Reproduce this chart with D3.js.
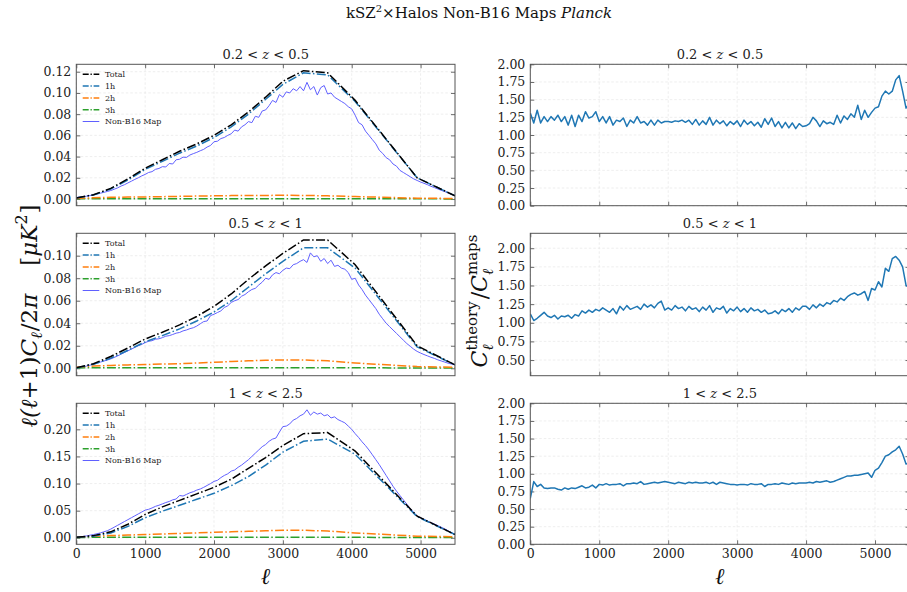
<!DOCTYPE html>
<html>
<head>
<meta charset="utf-8">
<script src="https://cdn.jsdelivr.net/npm/d3@7"></script>
<style>
  body { margin: 0; background: #fff; }
  svg { display: block; font-family: 'DejaVu Serif', serif; }
</style>
</head>
<body>
<div id="chart"></div>
<script>
// theory curves are sampled on a sparse ell grid
const theoryEll = [0, 250, 500, 750, 1000, 1250, 1500, 1750, 2000, 2250, 2500, 2750, 3000, 3300, 3650, 4050, 4950, 5500];
// maps / ratios are sampled every 50 in ell
const mapEll = d3.range(0, 5501, 50);

const zBins = ['0.2 < |z| < 0.5', '0.5 < |z| < 1', '1 < |z| < 2.5'];
const seriesNames = ['Total', '1h', '2h', '3h', 'Non-B16 Map'];

// ---- 0.2 < z < 0.5
const total1 = [0.001, 0.004, 0.010, 0.019, 0.029, 0.037, 0.045, 0.052, 0.060, 0.070, 0.082, 0.096, 0.111, 0.121, 0.119, 0.093, 0.020, 0.003];
const oneHalo1 = [0.001, 0.0038, 0.0095, 0.018, 0.028, 0.0355, 0.0432, 0.050, 0.058, 0.068, 0.080, 0.094, 0.108, 0.119, 0.117, 0.092, 0.020, 0.003];
const twoHalo1 = [0.0005, 0.0012, 0.0016, 0.0018, 0.002, 0.0022, 0.0025, 0.0028, 0.003, 0.0032, 0.0033, 0.0034, 0.0035, 0.0034, 0.003, 0.0023, 0.0008, 0.0005];
const threeHalo1 = [0.0002, 0.0003, 0.0003, 0.0003, 0.0003, 0.0003, 0.0003, 0.0003, 0.0003, 0.0003, 0.0003, 0.0003, 0.0003, 0.0003, 0.0003, 0.0003, 0.0002, 0.0001];
const map1 = [
  0.0015, 0.0018, 0.0022, 0.0027, 0.0033, 0.0040, 0.0047, 0.0055, 0.0063, 0.0071,
  0.0080, 0.0092, 0.0105, 0.0122, 0.0135, 0.0152, 0.0168, 0.0185, 0.0200, 0.0218,
  0.0232, 0.0250, 0.0258, 0.0280, 0.0288, 0.0305, 0.0302, 0.0335, 0.0330, 0.0370,
  0.0375, 0.0395, 0.0392, 0.0415, 0.0428, 0.0440, 0.0455, 0.0468, 0.0490, 0.0505,
  0.0540, 0.0545, 0.0570, 0.0580, 0.0600, 0.0615, 0.0650, 0.0640, 0.0680, 0.0700,
  0.0730, 0.0720, 0.0780, 0.0770, 0.0830, 0.0840, 0.0880, 0.0930, 0.0910, 0.0985,
  0.0960, 0.1010, 0.1000, 0.1040, 0.1020, 0.1060, 0.1020, 0.1100, 0.1030, 0.1060,
  0.0980, 0.1050, 0.1070, 0.0990, 0.1000, 0.0960, 0.0940, 0.0920, 0.0900, 0.0870,
  0.0850, 0.0790, 0.0720, 0.0700, 0.0640, 0.0600, 0.0560, 0.0520, 0.0460, 0.0430,
  0.0390, 0.0370, 0.0330, 0.0310, 0.0270, 0.0250, 0.0230, 0.0210, 0.0190, 0.0175,
  0.0160, 0.0148, 0.0135, 0.0120, 0.0108, 0.0095, 0.0082, 0.0070, 0.0058, 0.0045, 0.0035];
const ratio1 = [
  1.31, 1.17, 1.35, 1.17, 1.26, 1.19, 1.26, 1.21, 1.28, 1.19,
  1.26, 1.14, 1.28, 1.12, 1.28, 1.19, 1.33, 1.24, 1.26, 1.33,
  1.19, 1.26, 1.17, 1.26, 1.14, 1.21, 1.19, 1.24, 1.12, 1.21,
  1.17, 1.26, 1.17, 1.19, 1.14, 1.21, 1.14, 1.21, 1.17, 1.19,
  1.19, 1.18, 1.20, 1.19, 1.21, 1.18, 1.21, 1.15, 1.22, 1.14,
  1.20, 1.15, 1.25, 1.14, 1.21, 1.16, 1.20, 1.13, 1.19, 1.15,
  1.20, 1.12, 1.21, 1.15, 1.19, 1.13, 1.18, 1.11, 1.23, 1.15,
  1.24, 1.12, 1.19, 1.10, 1.18, 1.10, 1.17, 1.09, 1.16, 1.12,
  1.13, 1.16, 1.25, 1.20, 1.12, 1.20, 1.16, 1.18, 1.15, 1.28,
  1.17, 1.27, 1.22, 1.30, 1.25, 1.42, 1.22, 1.35, 1.25, 1.32,
  1.38, 1.40, 1.55, 1.62, 1.58, 1.62, 1.78, 1.84, 1.62, 1.38, 1.45];

// ---- 0.5 < z < 1
const total2 = [0.0005, 0.004, 0.0105, 0.018, 0.026, 0.032, 0.0385, 0.046, 0.055, 0.066, 0.079, 0.091, 0.102, 0.114, 0.114, 0.092, 0.020, 0.003];
const oneHalo2 = [0.0003, 0.0035, 0.009, 0.016, 0.0235, 0.029, 0.035, 0.042, 0.050, 0.060, 0.072, 0.084, 0.095, 0.107, 0.107, 0.089, 0.019, 0.003];
const twoHalo2 = [0.001, 0.002, 0.0025, 0.003, 0.0033, 0.0037, 0.004, 0.0047, 0.0053, 0.006, 0.0066, 0.0071, 0.0074, 0.0073, 0.0066, 0.0047, 0.0015, 0.0008];
const threeHalo2 = [0.0003, 0.0004, 0.0004, 0.0004, 0.0004, 0.0004, 0.0004, 0.0004, 0.0004, 0.0004, 0.0004, 0.0004, 0.0004, 0.0004, 0.0004, 0.0004, 0.0003, 0.0002];
const map2 = [
  0.0003, 0.0008, 0.0014, 0.0020, 0.0028, 0.0036, 0.0045, 0.0055, 0.0064, 0.0073,
  0.0083, 0.0096, 0.0110, 0.0125, 0.0140, 0.0155, 0.0170, 0.0185, 0.0200, 0.0212,
  0.0228, 0.0240, 0.0245, 0.0258, 0.0262, 0.0272, 0.0285, 0.0290, 0.0300, 0.0312,
  0.0318, 0.0332, 0.0340, 0.0352, 0.0360, 0.0375, 0.0395, 0.0415, 0.0420, 0.0468,
  0.0480, 0.0495, 0.0510, 0.0540, 0.0555, 0.0585, 0.0600, 0.0610, 0.0640, 0.0655,
  0.0680, 0.0700, 0.0710, 0.0740, 0.0765, 0.0800, 0.0790, 0.0830, 0.0850, 0.0840,
  0.0870, 0.0890, 0.0885, 0.0920, 0.0930, 0.0950, 0.0965, 0.0940, 0.1025, 0.0990,
  0.1000, 0.0950, 0.0975, 0.0930, 0.0960, 0.0905, 0.0915, 0.0890, 0.0880, 0.0850,
  0.0790, 0.0800, 0.0740, 0.0700, 0.0650, 0.0610, 0.0570, 0.0530, 0.0480, 0.0440,
  0.0400, 0.0370, 0.0340, 0.0310, 0.0280, 0.0250, 0.0220, 0.0195, 0.0170, 0.0150,
  0.0135, 0.0122, 0.0110, 0.0098, 0.0088, 0.0075, 0.0065, 0.0055, 0.0045, 0.0037, 0.0030];
const ratio2 = [
  1.12, 1.03, 1.06, 1.10, 1.14, 1.09, 1.07, 1.10, 1.05, 1.09,
  1.08, 1.10, 1.06, 1.11, 1.09, 1.16, 1.13, 1.17, 1.14, 1.18,
  1.16, 1.20, 1.17, 1.14, 1.19, 1.12, 1.22, 1.17, 1.23, 1.18,
  1.20, 1.22, 1.18, 1.25, 1.21, 1.24, 1.20, 1.26, 1.29, 1.17,
  1.20, 1.17, 1.23, 1.19, 1.21, 1.16, 1.22, 1.18, 1.20, 1.15,
  1.21, 1.17, 1.23, 1.14, 1.20, 1.18, 1.22, 1.13, 1.19, 1.16,
  1.21, 1.15, 1.19, 1.14, 1.20, 1.16, 1.18, 1.14, 1.17, 1.12,
  1.13, 1.16, 1.12, 1.18, 1.15, 1.19, 1.14, 1.20, 1.17, 1.22,
  1.22, 1.18, 1.24, 1.20, 1.25, 1.22, 1.27, 1.25, 1.30, 1.28,
  1.33, 1.30, 1.35, 1.38, 1.40, 1.37, 1.39, 1.42, 1.30, 1.46,
  1.44, 1.55, 1.48, 1.73, 1.69, 1.86, 1.89, 1.84, 1.75, 1.50, 1.48];

// ---- 1 < z < 2.5
const total3 = [0.001, 0.004, 0.011, 0.025, 0.043, 0.057, 0.069, 0.081, 0.093, 0.108, 0.128, 0.148, 0.170, 0.192, 0.194, 0.160, 0.040, 0.006];
const oneHalo3 = [0.0008, 0.003, 0.009, 0.021, 0.037, 0.049, 0.060, 0.071, 0.082, 0.096, 0.113, 0.134, 0.158, 0.178, 0.182, 0.154, 0.039, 0.006];
const twoHalo3 = [0.001, 0.003, 0.004, 0.005, 0.006, 0.007, 0.008, 0.009, 0.010, 0.011, 0.012, 0.013, 0.0138, 0.0138, 0.0125, 0.009, 0.003, 0.0018];
const threeHalo3 = [0.0006, 0.0008, 0.0008, 0.0008, 0.0008, 0.0008, 0.0008, 0.0008, 0.0008, 0.0008, 0.0008, 0.0008, 0.0008, 0.0008, 0.0008, 0.0008, 0.0007, 0.0006];
const map3 = [
  0.0007, 0.0015, 0.0025, 0.0035, 0.0048, 0.0060, 0.0075, 0.0090, 0.0110, 0.0130,
  0.0160, 0.0195, 0.0230, 0.0265, 0.0300, 0.0335, 0.0370, 0.0405, 0.0440, 0.0475,
  0.0510, 0.0525, 0.0550, 0.0580, 0.0600, 0.0625, 0.0650, 0.0670, 0.0700, 0.0715,
  0.0780, 0.0770, 0.0800, 0.0830, 0.0850, 0.0880, 0.0900, 0.0930, 0.0965, 0.1000,
  0.1040, 0.1060, 0.1110, 0.1150, 0.1180, 0.1230, 0.1250, 0.1300, 0.1340, 0.1390,
  0.1440, 0.1500, 0.1560, 0.1620, 0.1680, 0.1720, 0.1780, 0.1820, 0.1840, 0.1950,
  0.2050, 0.2060, 0.2100, 0.2170, 0.2200, 0.2250, 0.2280, 0.2360, 0.2260, 0.2320,
  0.2280, 0.2300, 0.2250, 0.2270, 0.2210, 0.2230, 0.2180, 0.2150, 0.2120, 0.2060,
  0.2000, 0.1920, 0.1850, 0.1770, 0.1700, 0.1620, 0.1530, 0.1440, 0.1350, 0.1250,
  0.1150, 0.1050, 0.0950, 0.0860, 0.0780, 0.0700, 0.0620, 0.0540, 0.0470, 0.0400,
  0.0370, 0.0340, 0.0310, 0.0280, 0.0255, 0.0225, 0.0195, 0.0165, 0.0130, 0.0095, 0.0065];
const ratio3 = [
  0.65, 0.89, 0.82, 0.85, 0.80, 0.79, 0.80, 0.80, 0.78, 0.77,
  0.80, 0.78, 0.80, 0.79, 0.81, 0.83, 0.80, 0.81, 0.84, 0.80,
  0.85, 0.84, 0.86, 0.84, 0.85, 0.85, 0.86, 0.83, 0.86, 0.86,
  0.87, 0.86, 0.89, 0.85, 0.86, 0.87, 0.88, 0.87, 0.88, 0.89,
  0.88, 0.87, 0.86, 0.88, 0.87, 0.86, 0.88, 0.87, 0.88, 0.87,
  0.87, 0.88, 0.86, 0.88, 0.85, 0.88, 0.87, 0.86, 0.85, 0.85,
  0.84, 0.85, 0.85, 0.84, 0.86, 0.85, 0.85, 0.86, 0.82, 0.85,
  0.85, 0.86, 0.85, 0.87, 0.86, 0.85, 0.87, 0.86, 0.87, 0.87,
  0.87, 0.88, 0.87, 0.89, 0.88, 0.89, 0.90, 0.88, 0.89, 0.91,
  0.93, 0.95, 0.97, 0.97, 0.98, 0.98, 0.99, 1.00, 1.01, 0.95,
  1.05, 1.08, 1.16, 1.25, 1.27, 1.31, 1.34, 1.39, 1.28, 1.14, 1.15];

const xTicks = [0, 1000, 2000, 3000, 4000, 5000];

// 各行的数据和坐标设置
const panels = [
  { label: zBins[0], theory: [total1, oneHalo1, twoHalo1, threeHalo1], map: map1, ratio: ratio1,
    yDomain: [-0.0063, 0.127], yTicks: [0, 0.02, 0.04, 0.06, 0.08, 0.10, 0.12],
    rDomain: [0, 2], rTicks: [0, 0.25, 0.5, 0.75, 1, 1.25, 1.5, 1.75, 2] },
  { label: zBins[1], theory: [total2, oneHalo2, twoHalo2, threeHalo2], map: map2, ratio: ratio2,
    yDomain: [-0.0066, 0.1199], yTicks: [0, 0.02, 0.04, 0.06, 0.08, 0.10],
    rDomain: [0.29, 2.2], rTicks: [0.5, 0.75, 1, 1.25, 1.5, 1.75, 2] },
  { label: zBins[2], theory: [total3, oneHalo3, twoHalo3, threeHalo3], map: map3, ratio: ratio3,
    yDomain: [-0.012, 0.248], yTicks: [0, 0.05, 0.10, 0.15, 0.20],
    rDomain: [0, 2], rTicks: [0, 0.25, 0.5, 0.75, 1, 1.25, 1.5, 1.75, 2] },
];

const rows = [[64.3, 205.7], [233.3, 375.7], [403.3, 544.3]];
const leftX = [76.3, 455];
const rightX = [530.3, 909.5];
const theoryColors = ['#000000', '#1f77b4', '#ff7f0e', '#2ca02c'];
const mapColor = '#6060ff';
const dashDot = '9,2.4,1.5,2.4';

const svgwidth = 907;
const svgheight = 592;
const svg = d3.select('#chart').append('svg')
  .attr('width', svgwidth)
  .attr('height', svgheight);
svg.append('rect').attr('width', svgwidth).attr('height', svgheight).attr('fill', '#fff');
const defs = svg.append('defs');

function styleAxis(sel) {
  sel.attr('font-family', null).attr('font-size', null);
  sel.select('.domain').remove();
  sel.selectAll('.tick line').attr('stroke', '#444').attr('stroke-width', 0.8);
  sel.selectAll('.tick text').attr('fill', '#222').attr('font-size', '12.5px');
}

// 画一个坐标框：网格、刻度、边框
function makeAxes(xr, yr, yDomain, yTicks, showXLabels, clipId) {
  const x = d3.scaleLinear().domain([0, 5500]).range(xr);
  const y = d3.scaleLinear().domain(yDomain).range([yr[1], yr[0]]);
  const g = svg.append('g');

  // grid
  g.append('g').selectAll('line').data(xTicks).join('line')
    .attr('x1', d => x(d)).attr('x2', d => x(d))
    .attr('y1', yr[0]).attr('y2', yr[1])
    .attr('stroke', '#e6e6e6').attr('stroke-width', 0.7).attr('stroke-dasharray', '2.5,2');
  g.append('g').selectAll('line').data(yTicks).join('line')
    .attr('x1', xr[0]).attr('x2', xr[1])
    .attr('y1', d => y(d)).attr('y2', d => y(d))
    .attr('stroke', '#e6e6e6').attr('stroke-width', 0.7).attr('stroke-dasharray', '2.5,2');

  g.append('g').attr('transform', `translate(0,${yr[1]})`)
    .call(d3.axisBottom(x).tickValues(xTicks).tickSizeInner(-4).tickSizeOuter(0).tickPadding(5)
      .tickFormat(showXLabels ? d3.format('d') : ''))
    .call(styleAxis);
  g.append('g').attr('transform', `translate(0,${yr[0]})`)
    .call(d3.axisTop(x).tickValues(xTicks).tickSizeInner(-4).tickSizeOuter(0).tickFormat(''))
    .call(styleAxis);
  g.append('g').attr('transform', `translate(${xr[0]},0)`)
    .call(d3.axisLeft(y).tickValues(yTicks).tickSizeInner(-4).tickSizeOuter(0).tickPadding(5)
      .tickFormat(d3.format('.2f')))
    .call(styleAxis);
  g.append('g').attr('transform', `translate(${xr[1]},0)`)
    .call(d3.axisRight(y).tickValues(yTicks).tickSizeInner(-4).tickSizeOuter(0).tickFormat(''))
    .call(styleAxis);

  defs.append('clipPath').attr('id', clipId)
    .append('rect')
    .attr('x', xr[0]).attr('y', yr[0])
    .attr('width', xr[1] - xr[0]).attr('height', yr[1] - yr[0]);
  const plot = svg.append('g').attr('clip-path', `url(#${clipId})`);

  // frame on top of everything
  const frame = svg.append('rect')
    .attr('x', xr[0]).attr('y', yr[0])
    .attr('width', xr[1] - xr[0]).attr('height', yr[1] - yr[0])
    .attr('fill', 'none').attr('stroke', '#555').attr('stroke-width', 1);
  return { x, y, plot, frame };
}

function zTitle(cx, baseY, label) {
  const parts = label.split('|');
  const t = svg.append('text')
    .attr('x', cx).attr('y', baseY)
    .attr('text-anchor', 'middle')
    .attr('font-size', '13px')
    .attr('fill', '#222');
  t.append('tspan').text(parts[0]);
  t.append('tspan').attr('font-style', 'italic').text(parts[1]);
  t.append('tspan').text(parts[2]);
}

panels.forEach((p, i) => {
  const yr = rows[i];
  const last = i === panels.length - 1;

  // ---- 左列：功率谱
  const L = makeAxes(leftX, yr, p.yDomain, p.yTicks, last, `clipL${i}`);
  const theoryLine = d3.line().x((d, k) => L.x(theoryEll[k])).y(d => L.y(d));
  const mapLine = d3.line().x((d, k) => L.x(mapEll[k])).y(d => L.y(d));
  L.plot.append('path')
    .attr('d', mapLine(p.map))
    .attr('fill', 'none').attr('stroke', mapColor).attr('stroke-width', 1);
  // draw 3h, 2h, 1h, Total so that Total is on top
  [3, 2, 1, 0].forEach((k) => {
    L.plot.append('path')
      .attr('d', theoryLine(p.theory[k]))
      .attr('fill', 'none')
      .attr('stroke', theoryColors[k])
      .attr('stroke-width', 1.5)
      .attr('stroke-dasharray', dashDot);
  });
  L.frame.raise();

  // legend
  const lg = svg.append('g');
  seriesNames.forEach((name, k) => {
    const ly = yr[0] + 10 + k * 11.8;
    lg.append('line')
      .attr('x1', leftX[0] + 6.4).attr('x2', leftX[0] + 23)
      .attr('y1', ly).attr('y2', ly)
      .attr('stroke', k < 4 ? theoryColors[k] : mapColor)
      .attr('stroke-width', k < 4 ? 1.5 : 1)
      .attr('stroke-dasharray', k < 4 ? '6,1.8,1.3,1.8' : null);
    lg.append('text')
      .attr('x', leftX[0] + 28.7).attr('y', ly)
      .attr('dy', '0.35em')
      .attr('font-size', '8px')
      .attr('fill', '#222')
      .text(name);
  });

  zTitle((leftX[0] + leftX[1]) / 2, yr[0] - 5, p.label);

  // ---- 右列：theory / maps 比值
  const R = makeAxes(rightX, yr, p.rDomain, p.rTicks, last, `clipR${i}`);
  const ratioLine = d3.line().x((d, k) => R.x(mapEll[k])).y(d => R.y(d));
  R.plot.append('path')
    .attr('d', ratioLine(p.ratio))
    .attr('fill', 'none').attr('stroke', '#1f77b4').attr('stroke-width', 1.5)
    .attr('stroke-linejoin', 'round');
  R.frame.raise();

  zTitle((rightX[0] + rightX[1]) / 2, yr[0] - 5, p.label);
});

// 数学公式风格的标签，逐段排版（可旋转）
function mathLabel(cx, cy, rotate, pieces) {
  const g = svg.append('g').attr('transform', `translate(${cx},${cy}) rotate(${rotate})`);
  let cursor = 0;
  const nodes = [];
  pieces.forEach((pc) => {
    const t = g.append('text')
      .attr('y', pc.dy || 0)
      .attr('font-size', `${pc.size}px`)
      .attr('font-style', pc.italic ? 'italic' : 'normal')
      .attr('fill', '#111')
      .text(pc.text);
    const w = t.node().getComputedTextLength();
    if (pc.stackWithPrev) {
      const prev = nodes[nodes.length - 1];
      t.attr('x', prev.x0);
      cursor = prev.x0 + Math.max(prev.w, w);
      nodes.push({ t, x0: prev.x0, w: Math.max(prev.w, w) });
    } else {
      t.attr('x', cursor + (pc.gap || 0));
      nodes.push({ t, x0: cursor + (pc.gap || 0), w });
      cursor += (pc.gap || 0) + w;
    }
  });
  nodes.forEach(n => n.t.attr('x', +n.t.attr('x') - cursor / 2));
}

// left y label
mathLabel(37, 316, -90, [
  { text: 'ℓ(ℓ', size: 23, italic: true },
  { text: '+1)', size: 23 },
  { text: 'C', size: 23, italic: true },
  { text: 'ℓ', size: 16, italic: true, dy: 5 },
  { text: '/2', size: 23, gap: 1 },
  { text: 'π', size: 23, italic: true },
  { text: '[', size: 23, gap: 28 },
  { text: 'μK', size: 23, italic: true },
  { text: '2', size: 16, dy: -10 },
  { text: ']', size: 23, gap: 1 },
]);

// right y label
mathLabel(487, 301, -90, [
  { text: 'C', size: 22, italic: true },
  { text: 'ℓ', size: 15, italic: true, dy: 6 },
  { text: 'theory', size: 15, dy: -10, stackWithPrev: true },
  { text: '/', size: 22, gap: 2 },
  { text: 'C', size: 22, italic: true },
  { text: 'ℓ', size: 15, italic: true, dy: 6 },
  { text: 'maps', size: 15, dy: -10, stackWithPrev: true },
]);

// x labels
[leftX, rightX].forEach((xr) => {
  svg.append('text')
    .attr('x', (xr[0] + xr[1]) / 2).attr('y', 584)
    .attr('text-anchor', 'middle')
    .attr('font-size', '23px')
    .attr('font-style', 'italic')
    .attr('fill', '#111')
    .text('ℓ');
});

// main title
const title = svg.append('text')
  .attr('x', 479).attr('y', 18)
  .attr('text-anchor', 'middle')
  .attr('font-size', '15px')
  .attr('fill', '#111');
title.append('tspan').text('kSZ');
title.append('tspan').attr('font-size', '10px').attr('dy', -6).text('2');
title.append('tspan').attr('dy', 6).text('×Halos Non-B16 Maps ');
title.append('tspan').attr('font-style', 'italic').text('Planck');
</script>
</body>
</html>
